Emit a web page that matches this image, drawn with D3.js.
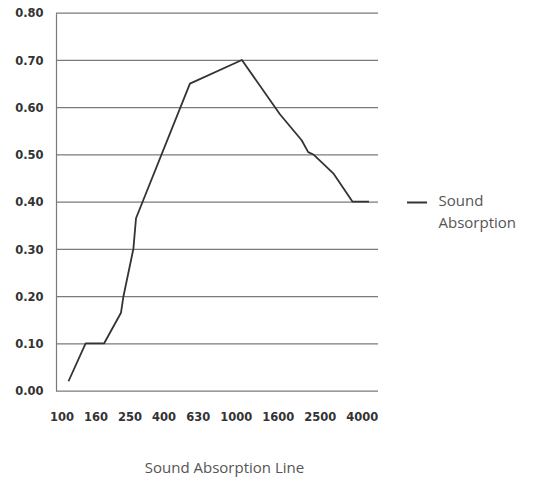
<!DOCTYPE html>
<html lang="en">
<head>
  <meta charset="UTF-8" />
  <title>Sound Absorption Line</title>
  <script src="https://d3js.org/d3.v7.min.js"></script>
  <style>
    body { margin:0; padding:0; background:#fff; }
    svg { display:block; }
    .ylab text, .xlab { font-family:"DejaVu Sans", sans-serif; font-weight:bold; font-size:11.5px; fill:#333; }
    .grid line { stroke:#7a7a7a; stroke-width:1.2px; }
    .legend text, .title { font-family:"Open Sans", sans-serif; font-size:15px; fill:#555; }
  </style>
</head>
<body>
  <svg width="534" height="478"></svg>
  <script>
  // x labels shown under the plot
  const xLabels = ["100", "160", "250", "400", "630", "1000", "1600", "2500", "4000"];
  // y ticks
  const yTicks = [0, 0.1, 0.2, 0.3, 0.4, 0.5, 0.6, 0.7, 0.8];
  // line vertices: position along the 1/3-octave band index (0 = 100 Hz ... 17 = 5000 Hz)
  const linePos = [0, 0.97, 2.01, 2.97, 3.11, 3.67, 3.82, 6.87, 9.81, 11.96, 13.19, 13.56, 13.85, 14.98, 16.07, 17];
  const lineVal = [0.02, 0.10, 0.10, 0.165, 0.20, 0.30, 0.365, 0.65, 0.70, 0.585, 0.53, 0.505, 0.50, 0.46, 0.40, 0.40];
  const seriesName = ["Sound", "Absorption"];
  const title = "Sound Absorption Line";

  (function(){
    const svg = d3.select("svg");
    const L = 56, R = 378, T = 12.7, B = 390.7;

    const x = d3.scaleLinear().domain([0, 17]).range([68.5, 369]);
    const y = d3.scaleLinear().domain([0, 0.8]).range([B, T]);

    // grid + y labels
    const gy = svg.append("g")
      .attr("class", "grid ylab")
      .attr("transform", `translate(${L},0)`)
      .call(d3.axisLeft(y).tickValues(yTicks).tickFormat(d3.format(".2f"))
        .tickSize(-(R - L)).tickSizeOuter(0).tickPadding(12.5));
    gy.select(".domain").attr("stroke", "#7a7a7a").attr("stroke-width", 1.2);
    gy.selectAll("text").attr("dy", "0.36em");

    // x labels laid out as a justified row
    const xg = svg.append("g");
    const labs = xg.selectAll("text").data(xLabels).enter().append("text")
      .attr("class", "xlab")
      .attr("y", 420.8)
      .text(d => d);
    const widths = labs.nodes().map(n => n.getComputedTextLength());
    const x0 = 50, x1 = 378.3;
    const gap = (x1 - x0 - d3.sum(widths)) / (xLabels.length - 1);
    let cx = x0;
    labs.attr("x", (d, i) => { const p = cx; cx += widths[i] + gap; return p; });

    // data line
    const pts = linePos.map((p, i) => [p, lineVal[i]]);
    svg.append("path")
      .datum(pts)
      .attr("fill", "none")
      .attr("stroke", "#333")
      .attr("stroke-width", 1.8)
      .attr("stroke-linejoin", "round")
      .attr("d", d3.line().x(d => x(d[0])).y(d => y(d[1])));

    // legend
    const lg = svg.append("g").attr("class", "legend");
    lg.append("line")
      .attr("x1", 407).attr("x2", 427).attr("y1", 202.5).attr("y2", 202.5)
      .attr("stroke", "#333").attr("stroke-width", 2);
    lg.selectAll("text").data(seriesName).enter().append("text")
      .attr("x", 438.5)
      .attr("y", (d, i) => 205.5 + i * 22)
      .text(d => d);

    // title
    svg.append("text")
      .attr("class", "title")
      .attr("x", 224.5).attr("y", 473)
      .attr("text-anchor", "middle")
      .text(title);
  })();
  </script>
</body>
</html>
